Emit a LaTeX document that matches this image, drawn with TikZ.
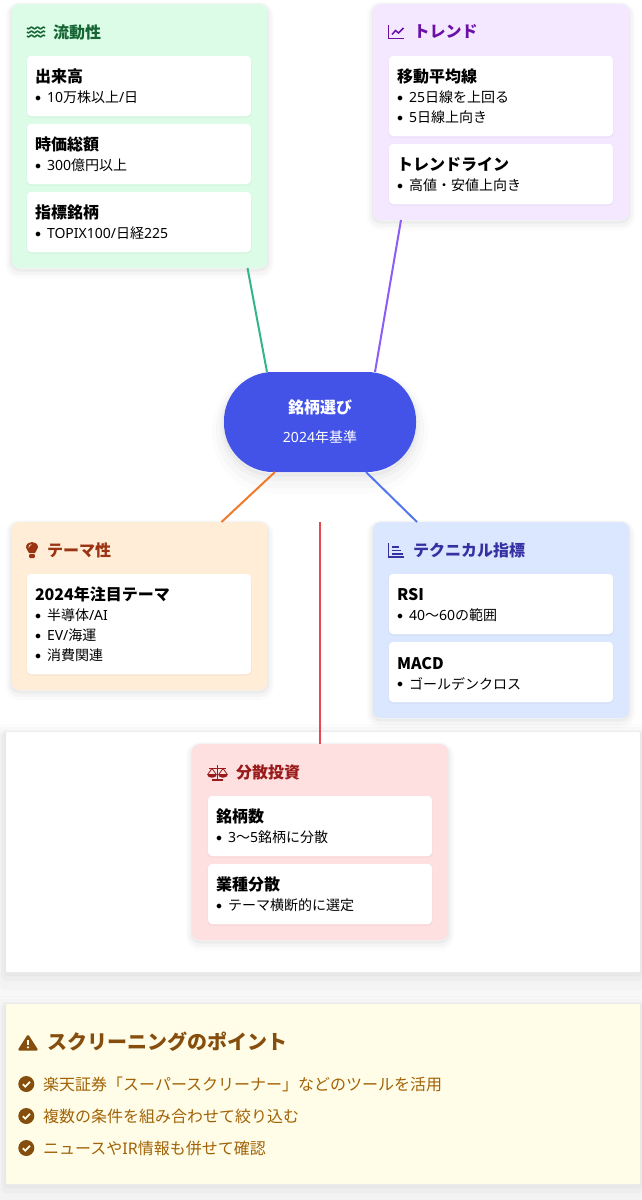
\documentclass[tikz,border=0pt]{standalone}
\usepackage{fontspec}
\setmainfont{Noto Sans CJK JP}
\newfontfamily\latfont{Noto Sans}
\definecolor{hubblue}{HTML}{4353E8}
\definecolor{liqbg}{HTML}{DCFCE7}
\definecolor{liqtext}{HTML}{166534}
\definecolor{liqline}{HTML}{34B58A}
\definecolor{trendbg}{HTML}{F3E8FF}
\definecolor{trendtext}{HTML}{6B0FA8}
\definecolor{trendline}{HTML}{8B5CF6}
\definecolor{themebg}{HTML}{FFEDD8}
\definecolor{themetext}{HTML}{9A3412}
\definecolor{themeline}{HTML}{F07A2A}
\definecolor{techbg}{HTML}{DBE7FE}
\definecolor{techtext}{HTML}{3730A3}
\definecolor{techline}{HTML}{5577EE}
\definecolor{diversbg}{HTML}{FEE0E1}
\definecolor{diverstext}{HTML}{991B1B}
\definecolor{diversline}{HTML}{E5484D}
\definecolor{notebg}{HTML}{FFFDE7}
\definecolor{notehead}{HTML}{854D0E}
\definecolor{notetext}{HTML}{A16207}
\newcommand{\lat}[1]{{\latfont #1}}
\newcommand{\itemhead}[1]{\rule{0pt}{14.8pt}{\fontsize{16}{20}\selectfont\bfseries #1}\\}
\newcommand{\bul}{\makebox[12pt][l]{\raisebox{1.5pt}{\fontsize{12.5}{12.5}\selectfont$\bullet$}}}
\tikzset{
  softshadow/.style={
    preaction={draw=black,draw opacity=.015,line width=12pt,transform canvas={yshift=-4pt}},
    preaction={draw=black,draw opacity=.025,line width=8pt,transform canvas={yshift=-3pt}},
    preaction={draw=black,draw opacity=.035,line width=3pt,transform canvas={yshift=-2pt}}},
  hubshadow/.style={
    preaction={draw=black,draw opacity=.012,line width=24pt,transform canvas={yshift=-10pt}},
    preaction={draw=black,draw opacity=.018,line width=16pt,transform canvas={yshift=-8pt}},
    preaction={draw=black,draw opacity=.025,line width=8pt,transform canvas={yshift=-5pt}},
    preaction={draw=black,draw opacity=.03,line width=3pt,transform canvas={yshift=-3pt}}},
  panelshadow/.style={
    preaction={draw=black,draw opacity=.012,line width=40pt,transform canvas={yshift=-12pt}},
    preaction={draw=black,draw opacity=.016,line width=30pt,transform canvas={yshift=-10pt}},
    preaction={draw=black,draw opacity=.02,line width=20pt,transform canvas={yshift=-8pt}},
    preaction={draw=black,draw opacity=.025,line width=10pt,transform canvas={yshift=-4pt}},
    preaction={draw=black,draw opacity=.02,line width=4pt,transform canvas={yshift=-2pt}}},
  cardbox/.style={anchor=north west,minimum width=256pt,rounded corners=8pt,inner sep=0pt,outer sep=0pt,softshadow},
  itembox/.style={anchor=north west,fill=white,minimum width=224pt,text width=208pt,inner xsep=8pt,inner ysep=0pt,outer sep=0pt,
    rounded corners=4pt,align=left,font=\fontsize{14}{20}\selectfont,
    preaction={draw=black,draw opacity=.04,line width=1pt,transform canvas={yshift=-1pt}}},
  headtext/.style={anchor=west,inner sep=0pt,font=\fontsize{16}{20}\selectfont\bfseries},
  panelbox/.style={anchor=north west,minimum width=634pt,inner sep=0pt,outer sep=0pt,rounded corners=1pt,panelshadow},
  notelabel/.style={anchor=west,inner sep=0pt,text=notetext,font=\fontsize{16}{20}\selectfont},
  link/.style={line width=2pt},
  pics/waveicon/.style={code={
    \foreach \dy in {2,6,10}
      \draw[line width=1.5pt] plot[domain=0:18,samples=37,smooth] (\x,{\dy+0.8*sin(\x*60)});
  }},
  pics/charticon/.style={code={
    \draw[line width=1.5pt] (0,0) -- (0,13.5) -- (15.5,13.5);
    \draw[line width=1.5pt] (3.5,9.5) -- (7,5.5) -- (10,8) -- (15,3);
  }},
  pics/bulbicon/.style={code={
    \fill (-3,11) .. controls (-3,9) and (-6,8) .. (-6,5.5) .. controls (-6,2) and (-3,0) .. (0,0)
      .. controls (3,0) and (6,2) .. (6,5.5) .. controls (6,8) and (3,9) .. (3,11) -- cycle;
    \fill[rounded corners=1pt] (-2.8,12) rectangle (2.8,16);
    \draw[themebg,line width=.7pt] (-3.3,5.5) .. controls (-3.3,3.6) and (-2,2.6) .. (-0.5,2.6);
  }},
  pics/barsicon/.style={code={
    \draw[line width=1.5pt] (0,0) -- (0,14) -- (15.5,14);
    \draw[line width=1.5pt] (3.5,4) -- (10,4);
    \draw[line width=1.5pt] (3.5,7.5) -- (12,7.5);
    \draw[line width=1.5pt] (3.5,11) -- (14,11);
  }},
  pics/scaleicon/.style={code={
    \draw[line width=1.5pt] (10.5,0) -- (10.5,14.5);
    \draw[line width=1.5pt] (5,15) -- (16,15);
    \draw[line width=1.5pt] (2,3.5) -- (19,3.5);
    \draw[line width=.8pt] (1,9) -- (5,3.5) -- (9,9);
    \draw[line width=.8pt] (12,9) -- (16,3.5) -- (20,9);
    \fill (0,9) .. controls (0,13.5) and (10,13.5) .. (10,9) -- cycle;
    \fill (11,9) .. controls (11,13.5) and (21,13.5) .. (21,9) -- cycle;
  }},
  pics/warnicon/.style={code={
    \fill[rounded corners=1.5pt] (10,0) -- (20.5,16.5) -- (-0.5,16.5) -- cycle;
    \fill[notebg] (9,5.5) rectangle (11,11);
    \fill[notebg] (10,13.3) circle (1.2);
  }},
  pics/checkicon/.style={code={
    \fill (0,0) circle (8);
    \draw[notebg,line width=1.7pt] (-3.5,0.2) -- (-1,2.7) -- (3.7,-2.2);
  }}
}
\begin{document}
\begin{tikzpicture}[x=1pt,y=-1pt]
    \useasboundingbox (0,0) rectangle (642,1200);
    % Draw the two wide panels
    \node[panelbox,fill=white,minimum height=240pt] (sheet) at (6,732) {};
    \node[panelbox,fill=notebg,minimum height=180pt] (note) at (6,1004) {};
    % Draw the cards
    \node[cardbox,fill=liqbg,minimum height=264pt] (liq) at (11.5,4) {};
    \node[cardbox,fill=trendbg,minimum height=216pt] (trend) at (373,4) {};
    \node[cardbox,fill=themebg,minimum height=168pt] (theme) at (11.5,522) {};
    \node[cardbox,fill=techbg,minimum height=196pt] (tech) at (373,522) {};
    \node[cardbox,fill=diversbg,minimum height=196pt] (divers) at (192,744) {};
    % Draw the centre
    \node[fill=hubblue,text=white,minimum width=192pt,minimum height=100pt,rounded corners=49pt,inner sep=0pt,outer sep=0pt,
      align=center,hubshadow] (hub) at (320,422)
      {{\fontsize{16}{20}\selectfont\bfseries 銘柄選び}\\[15pt]{\fontsize{14}{20}\selectfont\lat{2024}年基準}};
    % Draw the connectors
    \coordinate (drop) at (320,522);
    \draw[link,liqline] ([xshift=-53pt]hub.north) -- ([xshift=108pt]liq.south);
    \draw[link,trendline] ([xshift=55pt]hub.north) -- ([xshift=-100pt]trend.south);
    \draw[link,themeline] ([xshift=-45pt]hub.south) -- ([xshift=82pt]theme.north);
    \draw[link,techline] ([xshift=46pt]hub.south) -- ([xshift=-84pt]tech.north);
    \draw[link,diversline] (drop) -- (divers.north);
    % Liquidity card
    \pic[liqtext] at (27,26) {waveicon};
    \node[headtext,text=liqtext] (liqhead) at (53,32) {流動性};
    \node[itembox,minimum height=60pt] (volume) at (27,56) {\itemhead{出来高}\bul \lat{10}万株以上\lat{/}日};
    \node[itembox,minimum height=60pt] (mcap) at (27,124) {\itemhead{時価総額}\bul \lat{300}億円以上};
    \node[itembox,minimum height=60pt] (index) at (27,192) {\itemhead{指標銘柄}\bul \lat{TOPIX100/}日経\lat{225}};
    % Trend card
    \pic[trendtext] at (388.5,25) {charticon};
    \node[headtext,text=trendtext] (trendhead) at (413.5,32) {トレンド};
    \node[itembox,minimum height=80pt] (average) at (389,56) {\itemhead{移動平均線}\bul \lat{25}日線を上回る\\\bul \lat{5}日線上向き};
    \node[itembox,minimum height=60pt] (trendl) at (389,144) {\itemhead{トレンドライン}\bul 高値・安値上向き};
    % Theme card
    \pic[themetext] at (32,542) {bulbicon};
    \node[headtext,text=themetext] (themehead) at (47,550) {テーマ性};
    \node[itembox,minimum height=100pt] (focus) at (27,574) {\itemhead{2024年注目テーマ}\bul 半導体\lat{/AI}\\\bul \lat{EV/}海運\\\bul 消費関連};
    % Technical card
    \pic[techtext] at (388.5,543) {barsicon};
    \node[headtext,text=techtext] (techhead) at (413,550) {テクニカル指標};
    \node[itembox,minimum height=60pt] (rsi) at (389,574) {\itemhead{RSI}\bul \lat{40}〜\lat{60}の範囲};
    \node[itembox,minimum height=60pt] (macd) at (389,642) {\itemhead{MACD}\bul ゴールデンクロス};
    % Diversification card
    \pic[diverstext] at (207,765) {scaleicon};
    \node[headtext,text=diverstext] (diverhead) at (236,772) {分散投資};
    \node[itembox,minimum height=60pt] (count) at (208,796) {\itemhead{銘柄数}\bul \lat{3}〜\lat{5}銘柄に分散};
    \node[itembox,minimum height=60pt] (sector) at (208,864) {\itemhead{業種分散}\bul テーマ横断的に選定};
    % Note panel
    \pic[notehead] at (18,1034) {warnicon};
    \node[anchor=west,inner sep=0pt,text=notehead,font=\fontsize{20}{24}\selectfont\bfseries] (notetitle) at (47,1041.5) {スクリーニングのポイント};
    \foreach \ypos in {1084,1116,1148}
      \pic[notehead] at (26.3,\ypos) {checkicon};
    \node[notelabel] (tool) at (43,1084) {楽天証券「スーパースクリーナー」などのツールを活用};
    \node[notelabel] (filter) at (43,1116) {複数の条件を組み合わせて絞り込む};
    \node[notelabel] (news) at (43,1148) {ニュースや\lat{IR}情報も併せて確認};
\end{tikzpicture}
\end{document}
